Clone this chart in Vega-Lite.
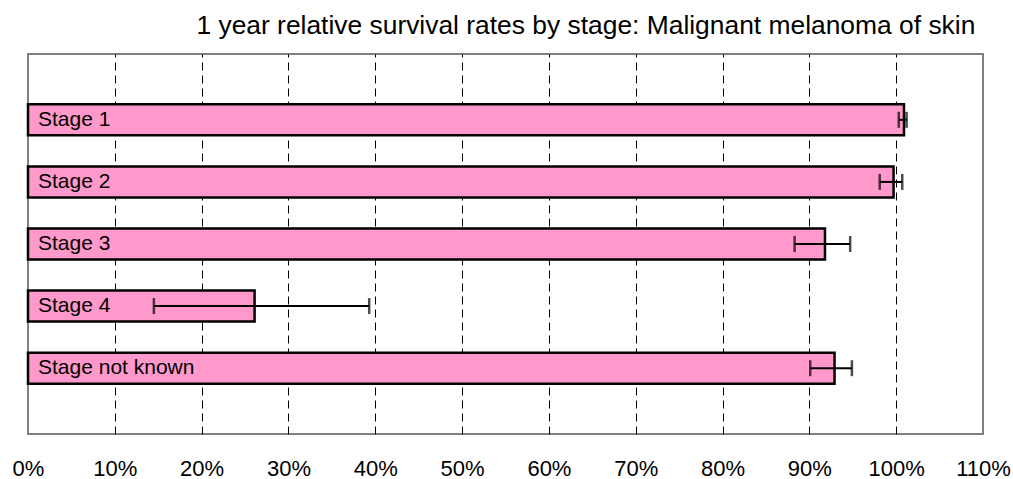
{
  "$schema": "https://vega.github.io/schema/vega-lite/v6.json",
  "width": 955,
  "height": 380,
  "autosize": {"type": "none"},
  "padding": {"left": 28, "top": 54, "right": 30, "bottom": 45},
  "background": "white",
  "config": {
    "font": "Liberation Sans",
    "view": {"stroke": "#808080", "strokeWidth": 2}
  },
  "title": {
    "text": "1 year relative survival rates by stage: Malignant melanoma of skin",
    "anchor": "end",
    "fontSize": 26.4,
    "fontWeight": "normal",
    "color": "black",
    "offset": 15,
    "dx": -35,
    "font": "Liberation Sans"
  },
  "data": {
    "values": [
      {"stage": "Stage 1", "rate": 1.009, "lo": 1.003, "hi": 1.012},
      {"stage": "Stage 2", "rate": 0.997, "lo": 0.981, "hi": 1.007},
      {"stage": "Stage 3", "rate": 0.918, "lo": 0.883, "hi": 0.947},
      {"stage": "Stage 4", "rate": 0.261, "lo": 0.145, "hi": 0.393},
      {"stage": "Stage not known", "rate": 0.929, "lo": 0.901, "hi": 0.949}
    ]
  },
  "encoding": {
    "y": {
      "field": "stage",
      "type": "nominal",
      "sort": null,
      "axis": null,
      "scale": {"paddingInner": 0.5, "paddingOuter": 0.81}
    }
  },
  "layer": [
    {
      "mark": {"type": "bar", "fill": "#ff99cc", "stroke": "black", "strokeWidth": 2.5},
      "encoding": {
        "x": {
          "field": "rate",
          "type": "quantitative",
          "scale": {"domain": [0, 1.1], "nice": false, "zero": true},
          "axis": {
            "title": null,
            "values": [0, 0.1, 0.2, 0.3, 0.4, 0.5, 0.6, 0.7, 0.8, 0.9, 1.0, 1.1],
            "format": ".0%",
            "ticks": false,
            "domain": false,
            "labelFontSize": 22,
            "labelColor": "black",
            "labelBaseline": "alphabetic",
            "labelPadding": 41,
            "labelFlush": false,
            "labelFont": "Liberation Sans",
            "labelOverlap": false,
            "grid": true,
            "gridColor": "black",
            "gridDash": [8, 5],
            "gridWidth": 1,
            "gridOpacity": {"condition": {"test": "datum.value < 0.05 || datum.value > 1.05", "value": 0}, "value": 1}
          }
        }
      }
    },
    {
      "mark": {"type": "rule", "color": "black", "strokeWidth": 2},
      "encoding": {
        "x": {"field": "lo", "type": "quantitative"},
        "x2": {"field": "hi"}
      }
    },
    {
      "mark": {"type": "tick", "color": "black", "thickness": 2.5, "size": 16, "orient": "vertical"},
      "encoding": {"x": {"field": "lo", "type": "quantitative"}}
    },
    {
      "mark": {"type": "tick", "color": "black", "thickness": 2.5, "size": 16, "orient": "vertical"},
      "encoding": {"x": {"field": "hi", "type": "quantitative"}}
    },
    {
      "mark": {"type": "text", "align": "left", "baseline": "middle", "dx": 10, "fontSize": 21, "color": "black", "font": "Liberation Sans"},
      "encoding": {
        "x": {"datum": 0, "type": "quantitative"},
        "text": {"field": "stage"}
      }
    }
  ]
}
